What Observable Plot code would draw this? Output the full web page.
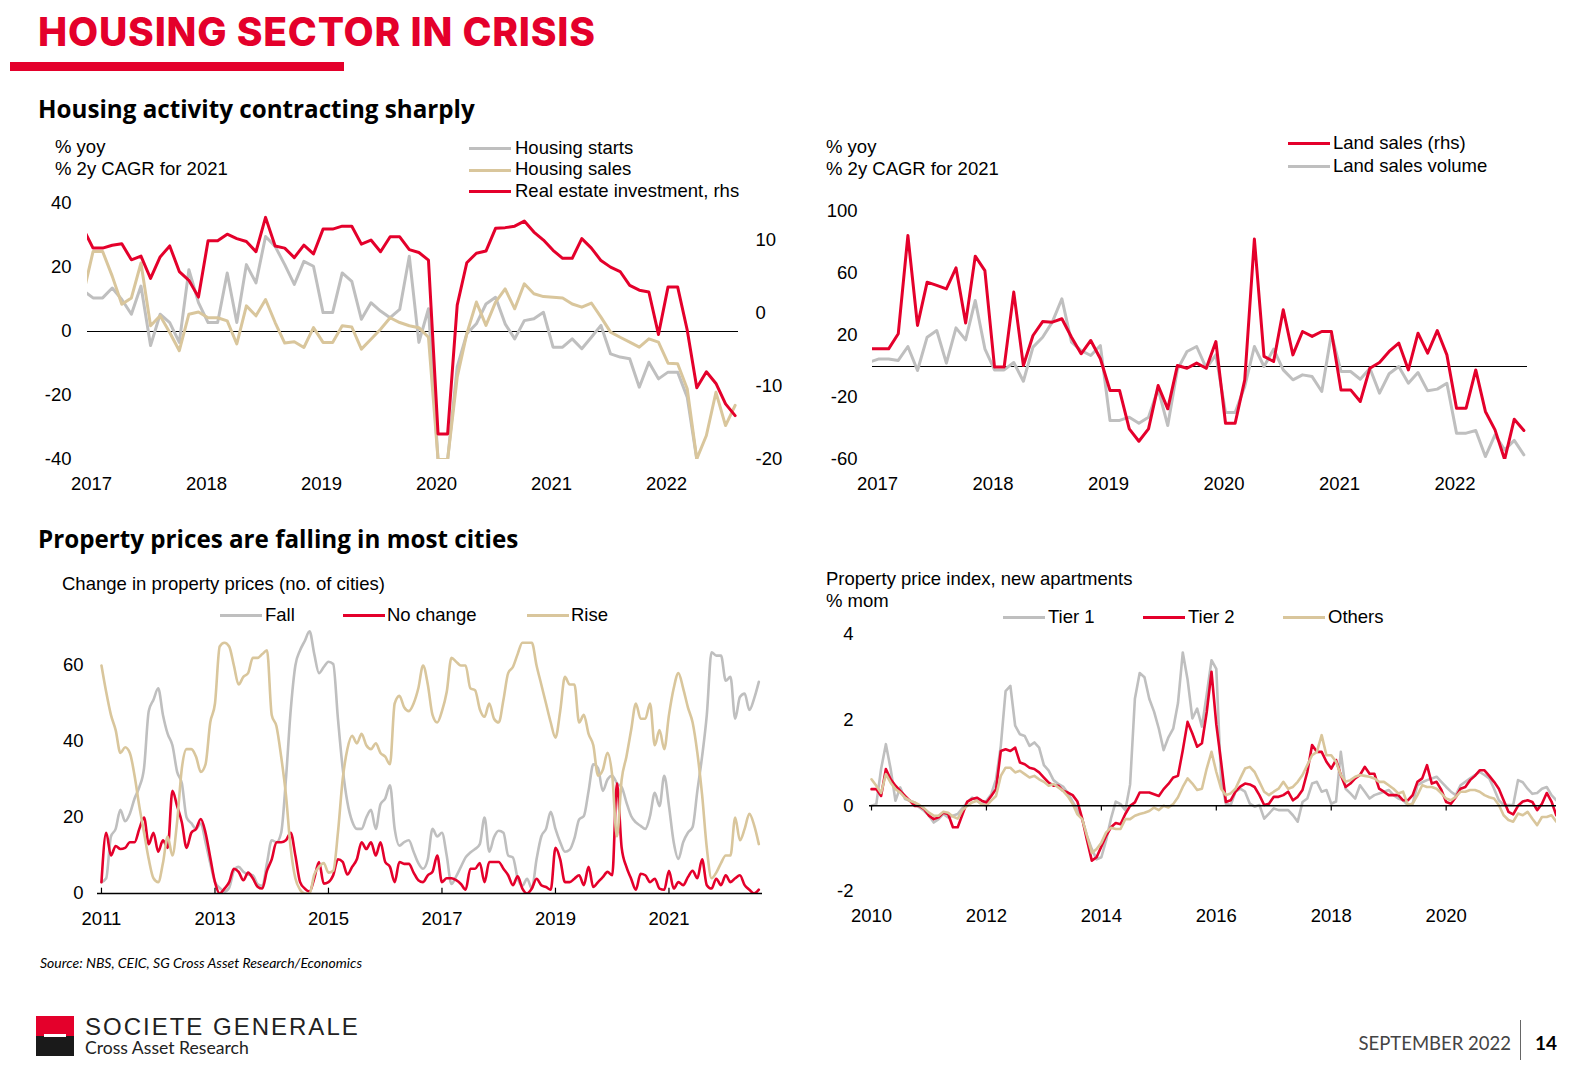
<!DOCTYPE html>
<html><head><meta charset="utf-8">
<script src="https://cdn.jsdelivr.net/npm/d3@7"></script>
<script src="https://cdn.jsdelivr.net/npm/@observablehq/plot@0.6"></script>
<style>
html,body{margin:0;padding:0;background:#fff;}
body{width:1571px;height:1071px;position:relative;overflow:hidden;font-family:"Liberation Sans",Arial,sans-serif;color:#000;}
.t{position:absolute;white-space:nowrap;line-height:1;}
svg.plot{position:absolute;overflow:visible;}
</style></head><body>
<script>
// ---------------- DATA ----------------
// Housing activity (monthly, first observation ~ Dec 2016)
const activityStart = 2016.93;
const housingStarts = [12.7,10.5,10.5,13.6,10.0,5.4,14.2,-4.4,5.4,2.8,-3.4,19.3,9.0,2.8,2.8,18.3,2.8,20.9,15.2,29.7,26.6,20.9,14.7,21.9,20.4,5.9,5.9,18.3,15.7,3.8,9.0,6.4,4.3,6.9,23.5,-3.4,7.1,-40,-40,-11.1,-0.7,2.4,8.6,10.7,2.4,-2.3,3.4,4.0,6.0,-4.9,-4.9,-2.3,-5.4,-1.8,1.9,-7.0,-8.0,-8.5,-17.4,-9.6,-14.8,-12.7,-12.7,-20.5,-40];
const housingSales = [12,25,25,17.3,8.5,10.5,21.4,1.8,4.9,-0.3,-6.0,5.4,6.1,4.3,4.3,3.3,-3.9,8.0,4.9,10.0,2.8,-3.6,-3.2,-5.0,1.2,-3.4,-3.4,1.8,1.4,-5.5,-2.4,0.7,4.3,2.8,1.8,1.2,-1.8,-40,-40,-14.3,-0.7,9.2,1.9,9.2,13.3,7.1,14.9,11.8,10.9,10.7,10.5,8.6,7.6,8.9,4.5,-0.2,-1.8,-3.3,-4.9,-2.3,-3.3,-9.9,-10.1,-17.9,-39.8,-32.5,-19.0,-29.4,-23.1];
const realEstateInvestment = [11.5,8.9,8.9,9.3,9.5,7.3,7.8,4.75,7.7,9.2,5.7,4.5,2.2,9.9,9.9,10.8,10.2,9.8,8.4,13.1,9.2,8.9,7.6,9.3,8.1,11.5,11.5,11.9,11.9,9.45,10.0,8.4,10.45,10.45,8.7,8.3,7.26,-16.5,-16.5,1.1,6.9,8.2,8.5,11.6,11.7,11.9,12.6,11.1,10.0,8.6,7.5,7.5,10.2,8.9,7.2,6.3,5.7,3.8,3.15,2.9,-2.9,3.6,3.6,-2.3,-10.2,-8.0,-9.6,-12.4,-14.0];
const landSales = [11.4,11.4,11.4,21.1,84.5,26.5,54.4,52.3,50.1,63.7,28.0,71.2,61.9,-0.4,-0.4,48.0,0.6,20.0,29.0,28.6,30.8,18.9,8.2,16.8,5.0,-15.5,-15.5,-40.2,-48.2,-40.2,-12.3,-27.3,0.6,-1.1,2.2,-1.1,16.1,-36.6,-36.6,-8.6,82.2,6.5,3.2,36.6,7.5,22.6,19.4,22.6,22.6,-15.1,-15.1,-22.6,-1.1,2.6,9.7,15.1,-2.2,21.5,8.6,23.2,7.5,-26.9,-26.9,-2.2,-29.0,-40.9,-60,-34.0,-41.3];
const landVolume = [2.8,4.9,4.9,3.9,12.9,-2.6,18.9,23.2,2.2,24.9,17.2,42.6,11.4,-2.2,-2.2,2.6,-9.5,12.5,18.9,28.6,43.7,15.7,10.3,7.1,13.5,-34.8,-34.8,-32.7,-36.6,-32.7,-14.4,-38.1,-2,9.7,12.9,-1.1,7.5,-29.7,-29.7,-12.9,12.9,0,11.2,-2.2,-8.6,-5.4,-6.5,-16.1,21.1,-3.2,-3.2,-8.2,-1.1,-17.2,-4.7,0,-10.8,-3.9,-15.7,-14.6,-10.8,-43.0,-43.0,-41.3,-58.1,-44.1,-53.8,-47.7,-57.0];

// Change in property prices, number of cities (monthly from Jan 2011)
const citiesStart = 2011;
const citiesFall = [3,4,15,17,22,19,21,25,28,33,48,51,54,47,42,39,32,29,20,18.5,17,18.5,13.5,8,3,1.5,0.5,1.5,6,7,5.7,5,4.8,2.5,2,8,14,13.5,16,30,48,60,64,66.5,69,63,58,59.6,61,60.4,46,33,24,19,17,17,20,22,17,23.5,25,28.5,17,12.6,13.5,14,
 11,8,6.5,9,17,15,16,10,2.5,4.5,7,9.5,10.8,11.7,13,20,11,14.8,16.5,16,10,9.5,4,2,3.9,1.3,9,15,17,21.5,17,13.5,11,11.5,14.5,19.5,20.4,27,34,33,27,30,31,29,28,24,20.4,18.7,17.8,17,20.4,26.5,23,31,23,13.5,9.1,13.5,16,17.5,27,36,47,63.5,62.6,62.6,56,57,46,51.7,52.6,48.3,51.3,55.7];
const citiesNoChange = [3,16,10,12.5,11.7,12,13.5,13.5,17,20,13,16,11,14,12,27,23,18.7,12,16,17,19.6,16,9.5,3,0,1.3,3,6.5,5.7,3.5,5.5,4,1.8,1.3,6,9,13.5,13.5,14,16,10,3,1.3,0.5,4,8.3,2.6,3,4.8,9,8.3,5,7,9,13.5,11.7,13.5,10,13.5,8.3,7,3,8.3,7.8,7.8,
 5.5,3.5,3,4.8,5.7,10,3,4,4,3.5,2.5,1,6.5,6.5,8,3,8.3,8.3,8.3,6.5,4.8,2.2,4.5,1.3,0,1.3,3.9,2.2,1.7,1,12,9,3,3,3.9,4.8,2.2,7,1.7,3,4.3,5.7,4.8,29,12,7,3.9,1,5.2,4.8,3,3.9,1.3,1,6,1.3,3,2.2,4.3,6,4,9,2.2,1.3,3.9,2.2,4.8,3,4,4.8,2.2,1,0,1];
const citiesRise = [60,53,47,43,37,38.5,37,31,23,16,9,4,3,8,15,10,19,33,38,38,36,32,34,45,50,65,66,65,60,55,57,58,62,62,63,64,47,44,36,26,12,4,1,0,0,5,7,8,5.5,6,16,30,38,41.5,39.5,42,39,38,39.5,37,36,34,50,52,49,48,
 50,54,60,55,47,45,48,53,62,61,60,60,54,53.5,48.5,46.5,50,46,45,51,58,59.6,63,66,66,66,60,55,50,45,41,48,57,55,55,45,47,42,39,31,32.5,37,31,15,30,36,43,50,46,46,50,39,43,38,47,54,58,54,49,45,37,26,12,4,5.5,8,10,10,20,14,17,21,18,13];

// Property price index, new apartments, % mom (monthly from Jan 2010)
const pricesStart = 2010;
const tier1 = [0,0.04,0.86,1.44,0.86,0.12,0.43,0.16,0.12,0.08,-0.04,-0.12,-0.23,-0.39,-0.31,-0.19,-0.27,-0.23,-0.19,-0.05,0.08,0.19,0.12,0.04,0.12,0.27,0.62,1.4,2.68,2.8,1.87,1.67,1.63,1.4,1.48,1.36,0.95,0.82,0.6,0.51,0.45,0.3,0.1,-0.1,-0.31,-0.7,-1.01,-1.25,-1.2,-0.8,-0.3,0.1,0.04,-0.1,0.5,2.5,3.1,3.0,2.5,2.2,1.8,1.3,1.6,1.8,2.4,3.58,2.95,2.04,2.27,1.85,2.6,3.4,3.2,
 0.6,0.05,0.02,0.33,0.4,0.33,0.05,-0.02,0.02,-0.3,-0.18,-0.06,-0.1,-0.1,-0.1,-0.22,-0.37,0.09,0.17,0.52,0.56,0.33,0.37,0.05,0.1,1.26,0.4,0.29,0.17,0.48,0.33,0.17,0.25,0.29,0.33,0.37,0.25,0.17,0.13,0.02,0.05,0.48,0.55,0.6,0.64,0.68,0.56,0.44,0.33,0.25,0.48,0.56,0.64,0.72,0.79,0.72,0.64,0.4,0.13,0.02,0.02,0.02,0.6,0.55,0.4,0.28,0.3,0.4,0.44,0.25,0.13];
const tier2 = [0.39,0.39,0.23,0.86,0.62,0.47,0.35,0.23,0.12,0,0,-0.08,-0.23,-0.31,-0.27,-0.16,-0.19,-0.5,-0.5,-0.2,0.1,0.16,0.19,0.12,0.08,0.23,0.39,1.28,1.32,1.28,1.36,1.01,0.97,0.89,0.86,0.78,0.66,0.54,0.47,0.47,0.35,0.31,0.25,0.1,-0.3,-0.8,-1.28,-1.2,-0.95,-0.7,
 -0.5,-0.4,-0.43,-0.19,0,0.08,0.31,0.31,0.31,0.27,0.23,0.39,0.51,0.66,0.7,1.3,1.96,1.69,1.38,1.46,2.19,3.13,1.9,1.03,0.09,0.13,0.33,0.45,0.52,0.5,0.44,0.25,0.02,0.05,0.21,0.21,0.25,0.33,0.13,0.21,0.37,0.79,1.42,1.26,1.26,1.03,0.87,1.07,0.72,0.44,
 0.52,0.64,0.72,0.91,0.75,0.75,0.4,0.33,0.25,0.25,0.25,0.13,0.13,0.25,0.56,0.64,0.95,0.52,0.56,0.37,0.09,0.05,0.2,0.4,0.44,0.6,0.7,0.83,0.83,0.7,0.56,0.4,0.13,-0.14,-0.2,0,0.1,0.13,0.09,-0.1,0.05,0.3,0.1,-0.22];
const others = [0.62,0.47,0.3,0.74,0.54,0.39,0.31,0.19,0.12,0.08,0.02,-0.06,-0.16,-0.23,-0.23,-0.14,-0.16,-0.25,-0.3,-0.1,0,0.08,0.12,0.04,0,0.12,0.23,0.7,0.89,0.89,0.78,0.82,0.74,0.66,0.7,0.62,0.56,0.47,0.51,0.43,0.35,0.22,0.05,-0.2,-0.31,-0.7,-1.1,-1.01,-0.86,-0.62,
 -0.51,-0.54,-0.54,-0.31,-0.31,-0.23,-0.19,-0.16,-0.12,-0.04,-0.1,0,-0.04,0.04,0.2,0.44,0.64,0.52,0.37,0.4,0.87,1.26,0.79,0.4,0.25,0.29,0.4,0.64,0.87,0.91,0.79,0.56,0.33,0.25,0.33,0.4,0.56,0.4,0.44,0.56,0.72,0.95,1.18,1.26,1.65,1.18,1.18,1.03,0.72,0.56,
 0.6,0.68,0.72,0.7,0.68,0.64,0.56,0.56,0.48,0.4,0.29,0.33,0.02,0.05,0.25,0.48,0.44,0.44,0.4,0.29,0.17,0.13,0.21,0.33,0.33,0.37,0.37,0.33,0.25,0.2,0.17,0.02,-0.22,-0.33,-0.37,-0.18,-0.22,-0.14,-0.3,-0.45,-0.26,-0.26,-0.22,-0.37];

// Tick labels
const activityYears = [2017,2018,2019,2020,2021,2022];
const activityLhsTicks = [-40,-20,0,20,40];
const activityRhsTicks = [-20,-10,0,10];
const landTicks = [-60,-20,20,60,100];
const citiesYears = [2011,2013,2015,2017,2019,2021];
const citiesTicks = [0,20,40,60];
const pricesYears = [2010,2012,2014,2016,2018,2020];
const pricesTicks = [-2,0,2,4];

// ---------------- STYLE ----------------
const RED = "#e4002b", GREY = "#bfbfbf", TAN = "#d9c69c";
const FONT = "Liberation Sans, Arial, sans-serif";
const plain = d => String(d);

function monthly(values, start) { return values.map((v, i) => ({t: start + i / 12, v})); }

function text(str, left, top, css) {
  const d = document.createElement("div");
  d.className = "t";
  d.textContent = str;
  d.style.left = left + "px"; d.style.top = top + "px";
  if (css) Object.assign(d.style, css);
  document.body.appendChild(d);
  return d;
}
function box(left, top, w, h, color) {
  const d = document.createElement("div");
  Object.assign(d.style, {position: "absolute", left: left + "px", top: top + "px", width: w + "px", height: h + "px", background: color});
  document.body.appendChild(d);
}
function swatch(color, left, top) { box(left, top, 42, 3, color); }
function place(svg, left, top) {
  svg.classList.add("plot");
  svg.style.left = left + "px"; svg.style.top = top + "px";
  document.body.appendChild(svg);
}
const baseStyle = {fontFamily: FONT, fontSize: "18.5px", color: "#000", background: "transparent", overflow: "visible"};

// ---------------- PANEL 1 ----------------
const lhsMin = -40, lhsMax = 40, rhsMin = -20, rhsMax = 15;
const rhsToLhs = r => lhsMin + (r - rhsMin) * (lhsMax - lhsMin) / (rhsMax - rhsMin);
const lhsToRhs = l => rhsMin + (l - lhsMin) * (rhsMax - rhsMin) / (lhsMax - lhsMin);

const p1 = Plot.plot({
  width: 750, height: 310, marginTop: 13, marginBottom: 41, marginLeft: 47, marginRight: 52,
  style: baseStyle,
  x: {domain: [2016.965, 2022.626]},
  y: {domain: [lhsMin, lhsMax]},
  marks: [
    Plot.ruleY([0], {stroke: "#000", strokeWidth: 1.2}),
    Plot.line(monthly(housingStarts, activityStart), {x: "t", y: "v", stroke: GREY, strokeWidth: 3, clip: true}),
    Plot.line(monthly(housingSales, activityStart), {x: "t", y: "v", stroke: TAN, strokeWidth: 3, clip: true}),
    Plot.line(monthly(realEstateInvestment, activityStart), {x: "t", y: d => rhsToLhs(d.v), stroke: RED, strokeWidth: 3, clip: true}),
    Plot.axisY(activityLhsTicks, {anchor: "left", tickSize: 0, tickPadding: 16, label: null, tickFormat: plain}),
    Plot.axisY(activityRhsTicks.map(rhsToLhs), {anchor: "right", tickSize: 0, tickPadding: 17, label: null, tickFormat: d => String(Math.round(lhsToRhs(d)))}),
    Plot.axisX(activityYears, {tickSize: 0, tickPadding: 17, label: null, tickFormat: plain})
  ]
});
place(p1, 40, 190);

// ---------------- PANEL 2 ----------------
const p2 = Plot.plot({
  width: 750, height: 310, marginTop: 21, marginBottom: 41, marginLeft: 52, marginRight: 43,
  style: baseStyle,
  x: {domain: [2016.957, 2022.628]},
  y: {domain: [-60, 100]},
  marks: [
    Plot.ruleY([0], {stroke: "#000", strokeWidth: 1.2}),
    Plot.line(monthly(landVolume, activityStart), {x: "t", y: "v", stroke: GREY, strokeWidth: 3, clip: true}),
    Plot.line(monthly(landSales, activityStart), {x: "t", y: "v", stroke: RED, strokeWidth: 3, clip: true}),
    Plot.axisY(landTicks, {anchor: "left", tickSize: 0, tickPadding: 15, label: null, tickFormat: plain}),
    Plot.axisX(activityYears, {tickSize: 0, tickPadding: 17, label: null, tickFormat: plain})
  ]
});
place(p2, 820, 190);

// ---------------- PANEL 3 ----------------
const p3 = Plot.plot({
  width: 750, height: 340, marginTop: 27, marginBottom: 47, marginLeft: 57, marginRight: 28,
  style: baseStyle,
  x: {domain: [2010.93, 2022.648]},
  y: {domain: [0, 70]},
  marks: [
    Plot.line(monthly(citiesFall, citiesStart), {x: "t", y: "v", stroke: GREY, strokeWidth: 2.6, clip: true, curve: "monotone-x"}),
    Plot.line(monthly(citiesNoChange, citiesStart), {x: "t", y: "v", stroke: RED, strokeWidth: 2.6, clip: true, curve: "monotone-x"}),
    Plot.line(monthly(citiesRise, citiesStart), {x: "t", y: "v", stroke: TAN, strokeWidth: 2.6, clip: true, curve: "monotone-x"}),
    Plot.ruleY([0], {stroke: "#000", strokeWidth: 1.5}),
    Plot.ruleX(citiesYears, {x: d => d, y1: 0, y2: 1.4, stroke: "#000", strokeWidth: 1.2}),
    Plot.axisY(citiesTicks, {anchor: "left", tickSize: 0, tickPadding: 14, label: null, tickFormat: plain}),
    Plot.axisX(citiesYears, {tickSize: 0, tickPadding: 18, label: null, tickFormat: plain})
  ]
});
place(p3, 40, 600);

// ---------------- PANEL 4 ----------------
const p4 = Plot.plot({
  width: 750, height: 340, marginTop: 34, marginBottom: 49, marginLeft: 49, marginRight: 14,
  style: baseStyle,
  x: {domain: [2009.965, 2021.92]},
  y: {domain: [-2, 4]},
  marks: [
    Plot.line(monthly(tier1, pricesStart), {x: "t", y: "v", stroke: GREY, strokeWidth: 2.6, clip: true}),
    Plot.line(monthly(tier2, pricesStart), {x: "t", y: "v", stroke: RED, strokeWidth: 2.6, clip: true}),
    Plot.line(monthly(others, pricesStart), {x: "t", y: "v", stroke: TAN, strokeWidth: 2.6, clip: true}),
    Plot.ruleY([0], {stroke: "#000", strokeWidth: 1.5}),
    Plot.ruleX(pricesYears, {x: d => d, y1: 0, y2: -0.12, stroke: "#000", strokeWidth: 1.2}),
    Plot.axisY(pricesTicks, {anchor: "left", tickSize: 0, tickPadding: 16, label: null, tickFormat: plain}),
    Plot.axisX(pricesYears, {tickSize: 0, tickPadding: 17, label: null, tickFormat: plain})
  ]
});
place(p4, 820, 600);

// ---------------- TEXT ----------------
text("HOUSING SECTOR IN CRISIS", 38, 12, {fontFamily: "Inter, 'Open Sans', sans-serif", fontWeight: 800, fontSize: "39px", color: RED, letterSpacing: "0.8px"});
box(10, 62, 334, 9, RED);

const subCss = {fontFamily: "'Open Sans', Lato, sans-serif", fontWeight: 700, fontSize: "24.2px"};
text("Housing activity contracting sharply", 38, 97, subCss);
text("Property prices are falling in most cities", 38, 527, subCss);

const lab = {fontSize: "18.5px"};
// Panel 1 texts
text("% yoy", 55, 138, lab);
text("% 2y CAGR for 2021", 55, 160, lab);
swatch(GREY, 469, 147); text("Housing starts", 515, 139, lab);
swatch(TAN, 469, 169); text("Housing sales", 515, 160, lab);
swatch(RED, 469, 190); text("Real estate investment, rhs", 515, 182, lab);

// Panel 2 texts
text("% yoy", 826, 138, lab);
text("% 2y CAGR for 2021", 826, 160, lab);
swatch(RED, 1288, 142); text("Land sales (rhs)", 1333, 134, lab);
swatch(GREY, 1288, 165); text("Land sales volume", 1333, 157, lab);

// Panel 3 texts
text("Change in property prices (no. of cities)", 62, 575, lab);
swatch(GREY, 220, 614); text("Fall", 265, 606, lab);
swatch(RED, 343, 614); text("No change", 387, 606, lab);
swatch(TAN, 527, 614); text("Rise", 571, 606, lab);

// Panel 4 texts
text("Property price index, new apartments", 826, 570, lab);
text("% mom", 826, 592, lab);
swatch(GREY, 1003, 616); text("Tier 1", 1048, 608, lab);
swatch(RED, 1143, 616); text("Tier 2", 1188, 608, lab);
swatch(TAN, 1283, 616); text("Others", 1328, 608, lab);

// Footer
text("Source: NBS, CEIC, SG Cross Asset Research/Economics", 40, 956, {fontFamily: "Lato, sans-serif", fontStyle: "italic", fontSize: "14px"});
box(36, 1016, 38, 20, RED);
box(36, 1036, 38, 20, "#1a1a1a");
box(44, 1034, 22, 3, "#fff");
text("SOCIETE GENERALE", 85, 1015, {fontFamily: "'Liberation Sans', sans-serif", fontSize: "24px", letterSpacing: "2px", color: "#222"});
text("Cross Asset Research", 85, 1039, {fontFamily: "Lato, sans-serif", fontSize: "17.6px", color: "#222"});
const sep = text("SEPTEMBER 2022", 0, 1034, {fontFamily: "Lato, sans-serif", fontSize: "18.5px", color: "#444"});
sep.style.left = ""; sep.style.right = (1571 - 1511) + "px";
box(1520, 1020, 1, 40, "#666");
text("14", 1535, 1033, {fontFamily: "Lato, sans-serif", fontWeight: 700, fontSize: "19px"});
</script>
</body></html>
